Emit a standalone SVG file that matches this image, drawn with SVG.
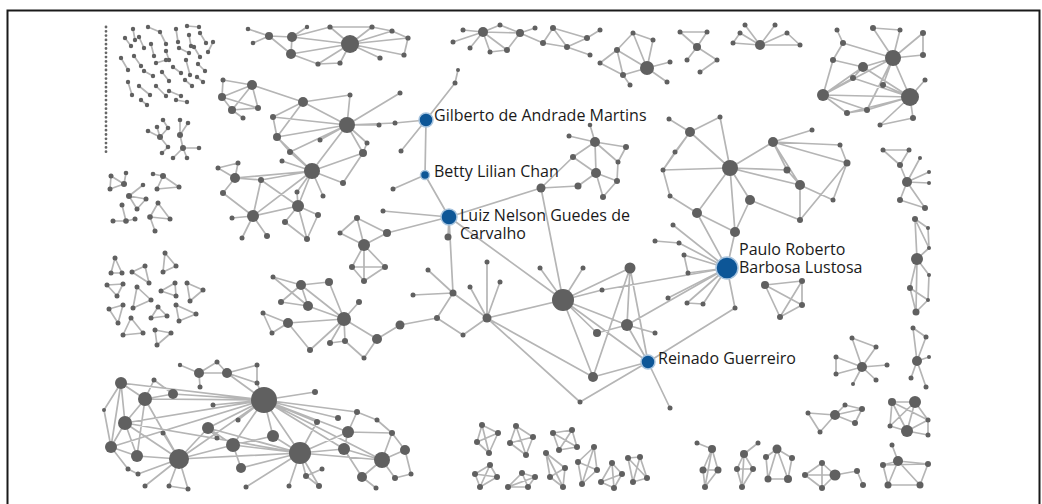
<svg xmlns="http://www.w3.org/2000/svg" width="1042" height="504" viewBox="0 0 1042 504">
<style>
.e{fill:none;stroke:#b5b5b5;stroke-width:1.7;stroke-linejoin:round;stroke-linecap:round}
.n circle{fill:#606060}
.b{fill:#0d5697;stroke:#a8c4de;stroke-width:1.5}
.t{font-family:"Open Sans","Liberation Sans",sans-serif;font-size:16px;fill:#1a1a1a}
</style>
<rect width="1042" height="504" fill="#fff"/>
<path d="M7.5 504V10.5H1039.5V504" fill="none" stroke="#1a1a1a" stroke-width="2"/>
<g id="connectors" class="e">
<path d="M133 29L135 40M148 27L160 32L166 44M176 29L178 42M187 26L199 27M189 35L191 46M200 33L206 43M213 42L208 52M125 38L131 46M139 37L144 48M151 44L154 56M166 51L169 60M179 48L189 53M194 47L200 57M121 58L128 70M134 56L141 66M144 71L153 76M156 63L166 60M162 72L169 81M173 67L181 73M186 60L190 75M198 64L205 71M128 82L132 95M139 86L150 95M156 86L166 96M169 91L181 96M185 80L192 86M197 77L203 82M141 100L147 105M176 100L187 102"/>
<path d="M148 131L160 137L157 127M163 120L168 128L160 137M168 147L162 153M168 147L160 137M180 120L180 135L188 123M180 135L183 148L199 148M183 148L187 158M183 148L173 158"/>
<path d="M111 176L124 184L126 173M124 184L110 189L111 176M153 174L163 176L157 189L179 187L163 176M129 196L143 185M129 196L146 199L137 209L129 196M122 205L126 221L113 221M126 221L135 219M158 203L150 217L170 219L158 203M150 217L155 231"/>
<path d="M115 258L111 273L122 273ZM132 272L145 266L149 283ZM165 253L176 266L163 272ZM107 285L123 284L117 296ZM137 287L151 300L133 308ZM161 291L175 283L176 296ZM187 283L203 290L190 301ZM109 309L123 305L118 323ZM131 318L123 335L143 333ZM158 307L151 318L167 316ZM176 305L179 321L196 314ZM155 330L171 333L157 345Z"/>
<path d="M248 29L269 36M253 43L269 36L292 37L291 54L269 36M292 37L350 44M291 54L350 44M292 37L330 27M291 54L318 64L350 44M350 44L330 27M350 44L372 27M350 44L392 31M350 44L408 38M350 44L404 55M350 44L380 58M350 44L340 63M330 27L372 27L392 31L408 38L404 55M292 37L307 27M340 63L318 64"/>
<path d="M252 85L223 80L222 97L252 85L258 108L222 97L232 110L258 108M252 85L232 110M232 110L243 118M252 85L303 102"/>
<path d="M347 125L303 102M347 125L273 117M347 125L277 137M347 125L290 152M347 125L363 153M347 125L379 125M347 125L400 93M347 125L367 143M347 125L320 140M303 102L273 117L277 137L290 152M303 102L277 137M363 153L367 143M347 125L395 123M347 125L312 171M277 137L312 171M290 152L312 171M347 125L350 95M303 102L350 95"/>
<path d="M312 171L298 206M312 171L253 216M312 171L261 180M312 171L282 161M312 171L363 153M312 171L343 183M312 171L323 196M312 171L297 192M312 171L235 178M235 178L218 168L238 163L235 178L223 193M235 178L261 180L253 216L223 193M253 216L267 236M253 216L242 238M253 216L232 218M253 216L298 206L297 192M298 206L285 222L307 239L318 215L298 206M298 206L307 239M343 183L363 153M261 180L298 206"/>
<path d="M340 233L364 245L357 218L387 233L364 245L352 267L385 267L364 245L364 281L352 267M385 267L364 281M387 233L449 217M340 233L357 218"/>
<path d="M273 277L301 285L329 282L344 319L301 285L308 306L344 319M273 277L308 306M281 302L308 306M281 302L301 285M359 302L344 319M263 313L288 323L344 319M263 313L272 333L288 323L310 350L344 319L330 343L345 341L344 319L377 339L364 358L345 341M377 339L400 325"/>
<path d="M426 120L395 123M426 120L401 151M426 120L455 83L458 70M426 120L425 175L449 217M425 175L393 189M449 217L383 211M449 217L448 237M449 217L541 188M449 217L563 300M449 217L453 293L437 318L400 325M453 293L487 318L563 300M453 293L428 270M453 293L413 295M437 318L463 335M487 318L463 335M487 318L593 377M487 318L580 402M487 318L487 262M487 318L500 282M487 318L470 287M563 300L630 268L627 325L648 362M563 300L627 325M563 300L597 333L627 325M563 300L648 362M563 300L593 377M563 300L541 188M563 300L583 268M563 300L540 268M563 300L602 290M630 268L593 377L648 362M630 268L648 362M580 402L648 362L670 408M648 362L735 308L727 268M627 325L727 268M602 290L727 268M627 325L655 333M541 188L578 186M541 188L573 157"/>
<path d="M569 136L595 142L626 147L618 162L595 142L573 157L596 173L595 142M596 173L617 181L603 197L596 173L578 186M618 162L617 181M590 125L595 142"/>
<path d="M730 168L690 132M730 168L773 142M730 168L720 117M730 168L800 185M730 168L787 170M730 168L750 200M730 168L697 213M730 168L735 232M730 168L663 170M690 132L720 117M690 132L669 119M690 132L675 152L663 170M690 132L663 170M773 142L812 130M773 142L847 163L840 145L773 142M773 142L800 185L787 170L773 142M800 185L833 200L847 163M800 185L800 220L750 200L735 232L697 213L670 196L663 170M735 232L727 268M697 213L727 268M800 220L847 163"/>
<path d="M727 268L673 225M655 241L679 243L727 268M684 255L688 273L727 268L684 255M727 268L668 298M727 268L687 303L703 304L727 268"/>
<path d="M765 285L802 281L802 305L780 317L765 285L802 305M802 281L780 317"/>
<path d="M862 367L852 338L876 347L862 367L887 365M862 367L876 380M862 367L853 384M862 367L836 357L836 374L862 367"/>
<path d="M808 413L835 415L845 405L862 409L835 415L855 423L862 409M808 413L820 432L835 415"/>
<path d="M892 402L915 402L907 431L890 426L892 402L907 431M915 402L928 420L907 431L928 435L928 420M890 426L915 402M892 402L928 420"/>
<path d="M697 443L712 449L703 470L718 470L712 449L705 487L703 470M718 470L705 487M758 443L744 454L737 469L753 469L744 454L742 487L737 469M753 469L742 487M777 449L766 457L768 479L788 479L792 458L777 449L768 479M777 449L788 479M805 475L822 463L835 475L805 475L822 488L835 475L857 471L863 485M822 463L822 488M892 445L898 461L883 465L888 485L920 485L928 464L898 461L920 485M898 461L888 485M883 465L928 464"/>
<path d="M482 425L498 433L489 453L477 442ZM482 425L489 453M498 433L477 442M516 426L533 437L526 455L510 443ZM516 426L526 455M533 437L510 443M553 433L572 430L577 447L559 450ZM553 433L577 447M572 430L559 450M490 465L497 477L480 487L475 474ZM490 465L480 487M497 477L475 474M522 473L535 477L528 487L508 487ZM522 473L528 487M535 477L508 487M546 453L565 468L563 487L550 477ZM546 453L563 487M565 468L550 477M594 447L597 470L582 484L578 462ZM594 447L582 484M597 470L578 462M612 463L622 474L614 488L601 482ZM612 463L614 488M622 474L601 482M628 458L640 457L647 478L633 482ZM628 458L647 478M640 457L633 482"/>
<path d="M883 150L909 150M883 150L900 165L907 182L920 158M907 182L929 172M907 182L929 183M907 182L900 200L925 208L907 182M900 165L909 150M915 219L928 228L929 248L917 259L915 219L929 248M917 259L929 275L928 300M917 259L910 288L928 300L916 312L917 259M910 288L916 312M913 328L926 337L917 361L913 328M917 361L929 357M917 361L911 378M917 361L926 387"/>
<path d="M893 58L873 28M893 58L863 67M893 58L843 43M893 58L910 97M893 58L923 33M893 58L923 55M893 58L900 30M893 58L883 85M893 58L867 110M863 67L823 95M863 67L833 60M863 67L853 78M863 67L910 97M910 97L823 95M910 97L883 85M910 97L867 110M910 97L913 118M910 97L847 113M910 97L925 80M910 97L853 78M910 97L880 125M823 95L833 60M823 95L847 113M823 95L853 78M823 95L867 110M843 43L837 30M843 43L833 60M873 28L900 30M923 33L923 55M867 110L847 113M913 118L880 125M893 58L823 95"/>
<path d="M453 42L483 32M470 48L483 32M463 30L483 32L500 25M483 32L507 50M483 32L490 52M483 32L520 33L507 50M520 33L500 25M520 33L543 43M520 33L535 28M543 43L553 28L567 47L587 38L553 28M543 43L567 47M587 38L600 30M567 47L590 55M507 50L490 52"/>
<path d="M647 68L617 50M647 68L667 82M647 68L623 75M647 68L633 33M647 68L653 40M647 68L670 62M617 50L600 63L623 75L617 50M633 33L653 40M623 75L630 85M617 50L633 33M697 47L680 32L707 32L697 47L717 60M697 47L687 60M717 60L700 72M760 45L740 33L733 43L760 45L787 33L800 45L760 45M760 45L775 25M760 45L745 25"/>
<path d="M264 400L121 383M264 400L145 399M264 400L173 394M264 400L125 423M264 400L208 428M264 400L213 405M264 400L315 392M264 400L317 422M264 400L357 412M264 400L338 418M264 400L348 432M264 400L344 449M264 400L300 453M264 400L233 445M264 400L273 436M264 400L238 420M264 400L179 459M264 400L382 460M264 400L111 447M300 453L179 459M300 453L208 428M300 453L233 445M300 453L273 436M300 453L241 468M300 453L348 432M300 453L344 449M300 453L382 460M300 453L289 486M300 453L319 486M300 453L306 476M300 453L246 487M300 453L317 422M300 453L125 423M179 459L125 423M179 459L137 456M179 459L208 428M179 459L163 433M179 459L233 445M179 459L169 486M179 459L188 489M179 459L138 474M179 459L145 486M179 459L145 399M121 383L145 399L173 394L154 380L145 399L125 423L121 383L111 447L104 410L121 383M125 423L111 447L137 456L125 423M145 399L137 456M208 428L233 445L273 436M208 428L217 438M233 445L241 468M348 432L344 449L382 460L405 450L392 433L348 432L357 412L377 420L392 433L382 460L362 477L376 488M382 460L395 478L411 474L405 450M344 449L362 477M306 476L322 469M306 476L319 486M128 469L138 474M169 486L188 489M111 447L128 469"/>
<path d="M180 365L199 373L227 373L217 362L199 373M227 373L257 365M227 373L257 383L257 365M199 373L200 387M227 373L264 400M257 383L264 400"/>
</g>
<path id="dot-column" d="M106 27V156" fill="none" stroke="#666" stroke-width="2.8" stroke-linecap="round" stroke-dasharray="0 4.3"/>
<g id="cluster-top-left-pairs" class="n">
<circle cx="133" cy="29" r="2.2"/><circle cx="135" cy="40" r="2.2"/><circle cx="148" cy="27" r="2.2"/><circle cx="160" cy="32" r="2.2"/><circle cx="166" cy="44" r="2.2"/><circle cx="176" cy="29" r="2.2"/><circle cx="178" cy="42" r="2.2"/><circle cx="187" cy="26" r="2.2"/><circle cx="199" cy="27" r="2.2"/><circle cx="189" cy="35" r="2.2"/><circle cx="191" cy="46" r="2.2"/><circle cx="200" cy="33" r="2.2"/><circle cx="206" cy="43" r="2.2"/><circle cx="213" cy="42" r="2.2"/><circle cx="208" cy="52" r="2.2"/><circle cx="125" cy="38" r="2.2"/><circle cx="131" cy="46" r="2.2"/><circle cx="139" cy="37" r="2.2"/><circle cx="144" cy="48" r="2.2"/><circle cx="151" cy="44" r="2.2"/><circle cx="154" cy="56" r="2.2"/><circle cx="166" cy="51" r="2.2"/><circle cx="169" cy="60" r="2.2"/><circle cx="179" cy="48" r="2.2"/><circle cx="189" cy="53" r="2.2"/><circle cx="194" cy="47" r="2.2"/><circle cx="200" cy="57" r="2.2"/><circle cx="121" cy="58" r="2.2"/><circle cx="128" cy="70" r="2.2"/><circle cx="134" cy="56" r="2.2"/><circle cx="141" cy="66" r="2.2"/><circle cx="144" cy="71" r="2.2"/><circle cx="153" cy="76" r="2.2"/><circle cx="156" cy="63" r="2.2"/><circle cx="166" cy="60" r="2.2"/><circle cx="162" cy="72" r="2.2"/><circle cx="169" cy="81" r="2.2"/><circle cx="173" cy="67" r="2.2"/><circle cx="181" cy="73" r="2.2"/><circle cx="186" cy="60" r="2.2"/><circle cx="190" cy="75" r="2.2"/><circle cx="198" cy="64" r="2.2"/><circle cx="205" cy="71" r="2.2"/><circle cx="128" cy="82" r="2.2"/><circle cx="132" cy="95" r="2.2"/><circle cx="139" cy="86" r="2.2"/><circle cx="150" cy="95" r="2.2"/><circle cx="156" cy="86" r="2.2"/><circle cx="166" cy="96" r="2.2"/><circle cx="169" cy="91" r="2.2"/><circle cx="181" cy="96" r="2.2"/><circle cx="185" cy="80" r="2.2"/><circle cx="192" cy="86" r="2.2"/><circle cx="197" cy="77" r="2.2"/><circle cx="203" cy="82" r="2.2"/><circle cx="141" cy="100" r="2.2"/><circle cx="147" cy="105" r="2.2"/><circle cx="176" cy="100" r="2.2"/><circle cx="187" cy="102" r="2.2"/>
</g>
<g id="cluster-small-stars" class="n">
<circle cx="148" cy="131" r="2.3"/><circle cx="157" cy="127" r="2.3"/><circle cx="163" cy="120" r="2.3"/><circle cx="160" cy="137" r="3"/><circle cx="168" cy="128" r="2.3"/><circle cx="168" cy="147" r="2.3"/><circle cx="162" cy="153" r="2.3"/><circle cx="180" cy="135" r="3"/><circle cx="180" cy="120" r="2.3"/><circle cx="188" cy="123" r="2.3"/><circle cx="183" cy="148" r="3"/><circle cx="199" cy="148" r="2.3"/><circle cx="187" cy="158" r="2.3"/><circle cx="173" cy="158" r="2.3"/>
</g>
<g id="cluster-left-triads" class="n">
<circle cx="111" cy="176" r="2.5"/><circle cx="126" cy="173" r="2.3"/><circle cx="124" cy="184" r="3"/><circle cx="110" cy="189" r="2.5"/><circle cx="153" cy="174" r="2.3"/><circle cx="163" cy="176" r="3"/><circle cx="179" cy="187" r="2.5"/><circle cx="157" cy="189" r="2.5"/><circle cx="129" cy="196" r="3"/><circle cx="143" cy="185" r="2.3"/><circle cx="146" cy="199" r="2.5"/><circle cx="137" cy="209" r="2.5"/><circle cx="122" cy="205" r="2.5"/><circle cx="126" cy="221" r="2.8"/><circle cx="113" cy="221" r="2.5"/><circle cx="135" cy="219" r="2.5"/><circle cx="158" cy="203" r="2.5"/><circle cx="150" cy="217" r="2.8"/><circle cx="170" cy="219" r="2.5"/><circle cx="155" cy="231" r="2.5"/>
<circle cx="115" cy="258" r="2.5"/><circle cx="111" cy="273" r="2.5"/><circle cx="122" cy="273" r="2.5"/><circle cx="132" cy="272" r="2.5"/><circle cx="145" cy="266" r="2.5"/><circle cx="149" cy="283" r="2.5"/><circle cx="165" cy="253" r="2.5"/><circle cx="176" cy="266" r="2.5"/><circle cx="163" cy="272" r="2.5"/><circle cx="107" cy="285" r="2.5"/><circle cx="123" cy="284" r="2.5"/><circle cx="117" cy="296" r="2.5"/><circle cx="137" cy="287" r="2.5"/><circle cx="151" cy="300" r="2.5"/><circle cx="133" cy="308" r="2.5"/><circle cx="161" cy="291" r="2.5"/><circle cx="175" cy="283" r="2.5"/><circle cx="176" cy="296" r="2.5"/><circle cx="187" cy="283" r="2.5"/><circle cx="203" cy="290" r="2.5"/><circle cx="190" cy="301" r="2.5"/><circle cx="109" cy="309" r="2.5"/><circle cx="123" cy="305" r="2.5"/><circle cx="118" cy="323" r="2.5"/><circle cx="131" cy="318" r="2.5"/><circle cx="123" cy="335" r="2.5"/><circle cx="143" cy="333" r="2.5"/><circle cx="158" cy="307" r="2.5"/><circle cx="151" cy="318" r="2.5"/><circle cx="167" cy="316" r="2.5"/><circle cx="176" cy="305" r="2.5"/><circle cx="179" cy="321" r="2.5"/><circle cx="196" cy="314" r="2.5"/><circle cx="155" cy="330" r="2.5"/><circle cx="171" cy="333" r="2.5"/><circle cx="157" cy="345" r="2.5"/>
</g>
<g id="cluster-top-a" class="n">
<circle cx="248" cy="29" r="2.3"/><circle cx="253" cy="43" r="2.3"/><circle cx="269" cy="36" r="4"/><circle cx="292" cy="37" r="5"/><circle cx="291" cy="54" r="5"/><circle cx="318" cy="64" r="2.6"/><circle cx="350" cy="44" r="9"/><circle cx="330" cy="27" r="2.6"/><circle cx="372" cy="27" r="2.6"/><circle cx="392" cy="31" r="2.6"/><circle cx="408" cy="38" r="2.6"/><circle cx="404" cy="55" r="2.6"/><circle cx="380" cy="58" r="2.6"/><circle cx="340" cy="63" r="2.6"/><circle cx="307" cy="27" r="2.2"/>
</g>
<g id="cluster-upper-left" class="n">
<circle cx="252" cy="85" r="5"/><circle cx="223" cy="80" r="2.5"/><circle cx="222" cy="97" r="4"/><circle cx="232" cy="110" r="4"/><circle cx="258" cy="108" r="3"/><circle cx="243" cy="118" r="2.5"/>
<circle cx="347" cy="125" r="8"/><circle cx="303" cy="102" r="5"/><circle cx="273" cy="117" r="3"/><circle cx="277" cy="137" r="4"/><circle cx="290" cy="152" r="3"/><circle cx="363" cy="153" r="4"/><circle cx="379" cy="125" r="2.5"/><circle cx="400" cy="93" r="2.5"/><circle cx="367" cy="143" r="2.5"/><circle cx="320" cy="140" r="2.5"/><circle cx="350" cy="95" r="2.5"/><circle cx="395" cy="123" r="2.5"/>
<circle cx="312" cy="171" r="8"/><circle cx="298" cy="206" r="6"/><circle cx="253" cy="216" r="6"/><circle cx="235" cy="178" r="5"/><circle cx="218" cy="168" r="2.5"/><circle cx="238" cy="163" r="2.5"/><circle cx="223" cy="193" r="3"/><circle cx="261" cy="180" r="3"/><circle cx="282" cy="161" r="2.5"/><circle cx="343" cy="183" r="3"/><circle cx="323" cy="196" r="2.5"/><circle cx="297" cy="192" r="2.5"/><circle cx="285" cy="222" r="3"/><circle cx="318" cy="215" r="3"/><circle cx="307" cy="239" r="3"/><circle cx="267" cy="236" r="3"/><circle cx="242" cy="238" r="2.5"/><circle cx="232" cy="218" r="2.5"/>
</g>
<g id="cluster-mid-left" class="n">
<circle cx="340" cy="233" r="2.5"/><circle cx="357" cy="218" r="3"/><circle cx="364" cy="245" r="6"/><circle cx="387" cy="233" r="4"/><circle cx="352" cy="267" r="3"/><circle cx="385" cy="267" r="3"/><circle cx="364" cy="281" r="3"/>
<circle cx="273" cy="277" r="2.5"/><circle cx="301" cy="285" r="5"/><circle cx="329" cy="282" r="4"/><circle cx="281" cy="302" r="3"/><circle cx="308" cy="306" r="5"/><circle cx="344" cy="319" r="7"/><circle cx="359" cy="302" r="3"/><circle cx="263" cy="313" r="2.5"/><circle cx="288" cy="323" r="5"/><circle cx="272" cy="333" r="2.5"/><circle cx="310" cy="350" r="3"/><circle cx="330" cy="343" r="3"/><circle cx="345" cy="341" r="3"/><circle cx="364" cy="358" r="2.5"/><circle cx="377" cy="339" r="5"/>
</g>
<g id="cluster-main" class="n">
<circle cx="401" cy="151" r="2.5"/><circle cx="455" cy="83" r="2.5"/><circle cx="458" cy="70" r="2"/><circle cx="393" cy="189" r="2.5"/><circle cx="383" cy="211" r="2.5"/><circle cx="448" cy="237" r="3.5"/><circle cx="541" cy="188" r="4.5"/><circle cx="453" cy="293" r="3.5"/><circle cx="437" cy="318" r="3"/><circle cx="487" cy="318" r="4.5"/><circle cx="400" cy="325" r="4.5"/><circle cx="463" cy="335" r="2.5"/><circle cx="563" cy="300" r="11"/><circle cx="630" cy="268" r="5.5"/><circle cx="627" cy="325" r="6"/><circle cx="597" cy="333" r="4"/><circle cx="593" cy="377" r="5"/><circle cx="670" cy="408" r="2.5"/><circle cx="580" cy="402" r="2.5"/><circle cx="428" cy="270" r="2.5"/><circle cx="413" cy="295" r="2.5"/><circle cx="487" cy="262" r="2.5"/><circle cx="500" cy="282" r="2.5"/><circle cx="470" cy="287" r="2.5"/><circle cx="583" cy="268" r="2.5"/><circle cx="540" cy="268" r="2.5"/><circle cx="602" cy="290" r="2.5"/><circle cx="655" cy="333" r="2.5"/><circle cx="735" cy="308" r="2.5"/>
<circle cx="569" cy="136" r="2.5"/><circle cx="595" cy="142" r="5"/><circle cx="626" cy="147" r="3"/><circle cx="573" cy="157" r="3"/><circle cx="618" cy="162" r="2.5"/><circle cx="596" cy="173" r="5"/><circle cx="617" cy="181" r="3"/><circle cx="578" cy="186" r="3.5"/><circle cx="603" cy="197" r="3"/><circle cx="590" cy="125" r="2.3"/>
<circle cx="730" cy="168" r="8"/><circle cx="690" cy="132" r="5"/><circle cx="773" cy="142" r="5"/><circle cx="720" cy="117" r="2.5"/><circle cx="800" cy="185" r="5"/><circle cx="787" cy="170" r="3.5"/><circle cx="750" cy="200" r="5"/><circle cx="697" cy="213" r="5"/><circle cx="735" cy="232" r="5"/><circle cx="847" cy="163" r="3.5"/><circle cx="840" cy="145" r="2.5"/><circle cx="833" cy="200" r="2.5"/><circle cx="800" cy="220" r="3"/><circle cx="663" cy="170" r="2.5"/><circle cx="670" cy="196" r="2.5"/><circle cx="812" cy="130" r="2.5"/><circle cx="669" cy="119" r="2.5"/><circle cx="675" cy="152" r="2.5"/>
<circle cx="673" cy="225" r="2.5"/><circle cx="655" cy="241" r="2.5"/><circle cx="679" cy="243" r="2.5"/><circle cx="684" cy="255" r="2.5"/><circle cx="688" cy="273" r="2.5"/><circle cx="668" cy="298" r="2.5"/><circle cx="687" cy="303" r="2.5"/><circle cx="703" cy="304" r="2.5"/>
</g>
<g id="cluster-right" class="n">
<circle cx="765" cy="285" r="4"/><circle cx="802" cy="281" r="3"/><circle cx="802" cy="305" r="3"/><circle cx="780" cy="317" r="3"/>
<circle cx="862" cy="367" r="5"/><circle cx="852" cy="338" r="2.5"/><circle cx="876" cy="347" r="2.5"/><circle cx="887" cy="365" r="2.5"/><circle cx="876" cy="380" r="2.5"/><circle cx="853" cy="384" r="2"/><circle cx="836" cy="357" r="2.5"/><circle cx="836" cy="374" r="2.5"/>
<circle cx="808" cy="413" r="2.5"/><circle cx="835" cy="415" r="5"/><circle cx="845" cy="405" r="2.5"/><circle cx="862" cy="409" r="3"/><circle cx="855" cy="423" r="3"/><circle cx="820" cy="432" r="2.5"/>
<circle cx="892" cy="402" r="4"/><circle cx="915" cy="402" r="6"/><circle cx="907" cy="431" r="6"/><circle cx="890" cy="426" r="2.5"/><circle cx="928" cy="420" r="2.5"/><circle cx="928" cy="435" r="2.5"/>
<circle cx="883" cy="150" r="2.5"/><circle cx="909" cy="150" r="2.5"/><circle cx="900" cy="165" r="3"/><circle cx="920" cy="158" r="2"/><circle cx="907" cy="182" r="5"/><circle cx="929" cy="172" r="2"/><circle cx="929" cy="183" r="2"/><circle cx="900" cy="200" r="3"/><circle cx="925" cy="208" r="3"/>
<circle cx="915" cy="219" r="3"/><circle cx="928" cy="228" r="2"/><circle cx="929" cy="248" r="2"/><circle cx="917" cy="259" r="6"/><circle cx="929" cy="275" r="2"/><circle cx="910" cy="288" r="3"/><circle cx="928" cy="300" r="2"/><circle cx="916" cy="312" r="3.5"/>
<circle cx="913" cy="328" r="2.5"/><circle cx="926" cy="337" r="2.5"/><circle cx="917" cy="361" r="5"/><circle cx="929" cy="357" r="2"/><circle cx="911" cy="378" r="2.5"/><circle cx="926" cy="387" r="2.5"/>
</g>
<g id="cluster-top-right" class="n">
<circle cx="873" cy="28" r="3"/><circle cx="893" cy="58" r="8"/><circle cx="863" cy="67" r="5"/><circle cx="843" cy="43" r="3"/><circle cx="910" cy="97" r="9"/><circle cx="823" cy="95" r="6"/><circle cx="923" cy="33" r="3"/><circle cx="923" cy="55" r="3"/><circle cx="833" cy="60" r="3"/><circle cx="853" cy="78" r="3"/><circle cx="883" cy="85" r="3"/><circle cx="867" cy="110" r="3"/><circle cx="913" cy="118" r="3"/><circle cx="847" cy="113" r="3"/><circle cx="837" cy="30" r="2.5"/><circle cx="900" cy="30" r="2.5"/><circle cx="925" cy="80" r="2.5"/><circle cx="880" cy="125" r="2.5"/>
</g>
<g id="cluster-top-middle" class="n">
<circle cx="453" cy="42" r="2.5"/><circle cx="470" cy="48" r="2.5"/><circle cx="483" cy="32" r="5"/><circle cx="507" cy="50" r="3"/><circle cx="520" cy="33" r="4"/><circle cx="553" cy="28" r="3"/><circle cx="567" cy="47" r="3"/><circle cx="587" cy="38" r="3"/><circle cx="543" cy="43" r="3"/><circle cx="490" cy="52" r="2.5"/><circle cx="463" cy="30" r="2.5"/><circle cx="500" cy="25" r="2.5"/><circle cx="535" cy="28" r="2.5"/><circle cx="600" cy="30" r="2.5"/><circle cx="590" cy="55" r="2.5"/>
<circle cx="617" cy="50" r="3"/><circle cx="647" cy="68" r="7"/><circle cx="667" cy="82" r="2.5"/><circle cx="623" cy="75" r="3"/><circle cx="633" cy="33" r="2.5"/><circle cx="653" cy="40" r="2.5"/><circle cx="670" cy="62" r="2.5"/><circle cx="600" cy="63" r="2.5"/><circle cx="630" cy="85" r="2.5"/>
<circle cx="697" cy="47" r="4"/><circle cx="680" cy="32" r="2.5"/><circle cx="707" cy="32" r="2.5"/><circle cx="717" cy="60" r="2.5"/><circle cx="687" cy="60" r="2.5"/><circle cx="700" cy="72" r="2.5"/>
<circle cx="760" cy="45" r="5"/><circle cx="740" cy="33" r="2.5"/><circle cx="787" cy="33" r="2.5"/><circle cx="800" cy="45" r="2.5"/><circle cx="733" cy="43" r="2.5"/><circle cx="775" cy="25" r="2.5"/><circle cx="745" cy="25" r="2.5"/>
</g>
<g id="cluster-bottom-middle" class="n">
<circle cx="482" cy="425" r="3"/><circle cx="498" cy="433" r="3"/><circle cx="489" cy="453" r="3"/><circle cx="477" cy="442" r="3"/><circle cx="516" cy="426" r="3"/><circle cx="533" cy="437" r="3"/><circle cx="526" cy="455" r="3"/><circle cx="510" cy="443" r="3"/><circle cx="553" cy="433" r="3"/><circle cx="572" cy="430" r="3"/><circle cx="577" cy="447" r="3"/><circle cx="559" cy="450" r="3"/><circle cx="490" cy="465" r="3"/><circle cx="497" cy="477" r="3"/><circle cx="480" cy="487" r="3"/><circle cx="475" cy="474" r="3"/><circle cx="522" cy="473" r="3"/><circle cx="535" cy="477" r="3"/><circle cx="528" cy="487" r="3"/><circle cx="508" cy="487" r="3"/><circle cx="546" cy="453" r="3"/><circle cx="565" cy="468" r="3"/><circle cx="563" cy="487" r="3"/><circle cx="550" cy="477" r="3"/><circle cx="594" cy="447" r="3"/><circle cx="597" cy="470" r="3"/><circle cx="582" cy="484" r="3"/><circle cx="578" cy="462" r="3"/><circle cx="612" cy="463" r="3"/><circle cx="622" cy="474" r="3"/><circle cx="614" cy="488" r="3"/><circle cx="601" cy="482" r="3"/><circle cx="628" cy="458" r="3"/><circle cx="640" cy="457" r="3"/><circle cx="647" cy="478" r="3"/><circle cx="633" cy="482" r="3"/>
</g>
<g id="cluster-bottom-right" class="n">
<circle cx="697" cy="443" r="2.5"/><circle cx="712" cy="449" r="4"/><circle cx="703" cy="470" r="3.5"/><circle cx="718" cy="470" r="3.5"/><circle cx="705" cy="487" r="3"/><circle cx="758" cy="443" r="2.5"/><circle cx="744" cy="454" r="4"/><circle cx="737" cy="469" r="3"/><circle cx="753" cy="469" r="3"/><circle cx="742" cy="487" r="3"/><circle cx="777" cy="449" r="4.5"/><circle cx="766" cy="457" r="3"/><circle cx="792" cy="458" r="3"/><circle cx="768" cy="479" r="3.5"/><circle cx="788" cy="479" r="4"/><circle cx="805" cy="475" r="3"/><circle cx="822" cy="463" r="3"/><circle cx="835" cy="475" r="5.5"/><circle cx="822" cy="488" r="3"/><circle cx="857" cy="471" r="3"/><circle cx="863" cy="485" r="3"/><circle cx="892" cy="445" r="2.5"/><circle cx="898" cy="461" r="5"/><circle cx="883" cy="465" r="3"/><circle cx="928" cy="464" r="3"/><circle cx="888" cy="485" r="3.5"/><circle cx="920" cy="485" r="3.5"/>
</g>
<g id="cluster-bottom-left" class="n">
<circle cx="121" cy="383" r="6"/><circle cx="154" cy="380" r="2.5"/><circle cx="145" cy="399" r="7"/><circle cx="173" cy="394" r="5"/><circle cx="125" cy="423" r="7"/><circle cx="111" cy="447" r="6"/><circle cx="137" cy="456" r="6"/><circle cx="179" cy="459" r="10"/><circle cx="208" cy="428" r="6"/><circle cx="163" cy="433" r="2.5"/><circle cx="213" cy="405" r="2.5"/><circle cx="264" cy="400" r="13"/><circle cx="315" cy="392" r="3"/><circle cx="317" cy="422" r="3"/><circle cx="357" cy="412" r="3"/><circle cx="338" cy="418" r="3"/><circle cx="348" cy="432" r="6"/><circle cx="344" cy="449" r="6"/><circle cx="382" cy="460" r="8"/><circle cx="405" cy="450" r="5"/><circle cx="392" cy="433" r="3"/><circle cx="300" cy="453" r="11"/><circle cx="233" cy="445" r="7"/><circle cx="273" cy="436" r="6"/><circle cx="241" cy="468" r="5"/><circle cx="238" cy="420" r="2.5"/><circle cx="217" cy="438" r="2.5"/><circle cx="128" cy="469" r="2.5"/><circle cx="138" cy="474" r="2.5"/><circle cx="145" cy="486" r="2.5"/><circle cx="169" cy="486" r="2.5"/><circle cx="188" cy="489" r="2.5"/><circle cx="246" cy="487" r="2.5"/><circle cx="289" cy="486" r="2.5"/><circle cx="319" cy="486" r="3"/><circle cx="306" cy="476" r="3"/><circle cx="322" cy="469" r="2.5"/><circle cx="376" cy="488" r="2.5"/><circle cx="395" cy="478" r="3"/><circle cx="411" cy="474" r="2.5"/><circle cx="362" cy="477" r="5"/><circle cx="377" cy="420" r="2.5"/><circle cx="104" cy="410" r="2"/>
<circle cx="180" cy="365" r="2.2"/><circle cx="199" cy="373" r="5"/><circle cx="227" cy="373" r="5"/><circle cx="217" cy="362" r="2.5"/><circle cx="257" cy="365" r="2.5"/><circle cx="257" cy="383" r="2.5"/><circle cx="200" cy="387" r="2.5"/>
</g>
<g id="node-gilberto"><circle class="b" cx="426" cy="120" r="7"/><text class="t" x="434" y="121">Gilberto de Andrade Martins</text></g>
<g id="node-betty"><circle class="b" cx="425" cy="175" r="4.5"/><text class="t" x="434" y="177">Betty Lilian Chan</text></g>
<g id="node-luiz"><circle class="b" cx="449" cy="217" r="8"/><text class="t" x="460" y="221">Luiz Nelson Guedes de</text><text class="t" x="460" y="239">Carvalho</text></g>
<g id="node-paulo"><circle class="b" cx="727" cy="268" r="11"/><text class="t" x="739" y="255">Paulo Roberto</text><text class="t" x="739" y="273">Barbosa Lustosa</text></g>
<g id="node-reinado"><circle class="b" cx="648" cy="362" r="7"/><text class="t" x="658" y="364">Reinado Guerreiro</text></g>
</svg>
